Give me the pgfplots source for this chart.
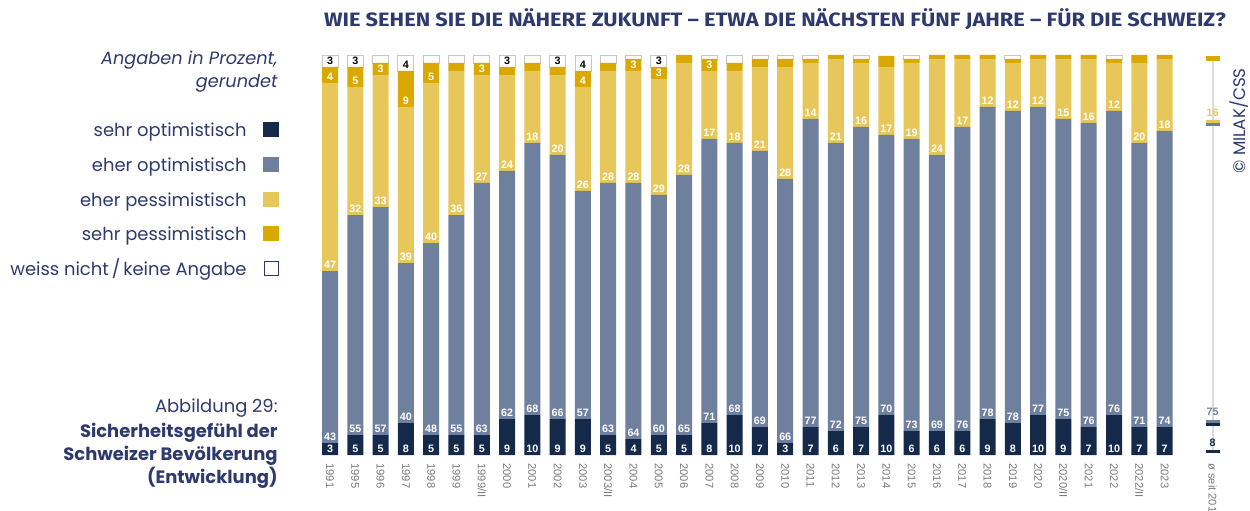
\documentclass[border=0pt]{standalone}
\usepackage{fontspec}
\setmainfont{Poppins}
\newfontfamily\lib{Liberation Sans}
\newfontfamily\fira{Fira Sans}
\usepackage{pgfplots}
\usepackage{pgfplotstable}
\pgfplotsset{compat=1.18}
\definecolor{ink}{HTML}{2E3A6E}
\definecolor{so}{HTML}{15294A}
\definecolor{eo}{HTML}{6F809E}
\definecolor{ep}{HTML}{E8C75A}
\definecolor{sp}{HTML}{D9A900}
\definecolor{tickgrey}{HTML}{7A7A7A}
\definecolor{rail}{HTML}{DCDCDC}

% x: position, so/eo/ep/sp/wn: sehr opt., eher opt., eher pess., sehr pess., weiss nicht
\pgfplotstableread{
x  so eo ep sp  wn
0  3  43 47 4   3
1  5  55 32 5   3
2  5  57 33 3   2
3  8  40 39 9   4
4  5  48 40 5   2
5  5  55 36 2   2
6  5  63 27 3   2
7  9  62 24 2   3
8  10 68 18 2   2
9  9  66 20 2   3
10 9  57 26 4   4
11 5  63 28 2   2
12 4  64 28 3   1
13 5  60 29 3   3
14 5  65 28 2   0
15 8  71 17 3   1
16 10 68 18 2   2
17 7  69 21 2   1
18 3  66 28 2   1
19 7  77 14 1   1
20 6  72 21 1   0
21 7  75 16 1   1
22 10 70 17 2.8 0
23 6  73 19 1   1
24 6  69 24 1   0
25 6  76 17 1   0
26 9  78 12 1   0
27 8  78 12 1   1
28 10 77 12 1   0
29 9  75 15 1   0
30 7  76 16 1   0
31 10 76 12 1   1
32 7  71 20 2   0
33 7  74 18 1   0
}\survey

\pgfplotsset{
  frame/.style={
    x=12.645bp, y=2bp,
    xmin=-0.6, xmax=35.5, ymin=0, ymax=100,
    axis line style={draw=none}, major tick length=0pt,
    ytick=\empty, clip=false,
  },
  lbl/.style={
    draw=none, mark=none,
    point meta=explicit symbolic,
    nodes near coords={\ifdim\pgfplotspointmeta pt<3pt\else\pgfplotspointmeta\fi},
    every node near coord/.append style={anchor=center, yshift=3bp, inner sep=0pt,
      text=white, font=\lib\bfseries\fontsize{5.4}{6}\selectfont},
  },
}

\begin{document}
\begin{tikzpicture}
% stacked bars
\begin{axis}[frame,
  ybar stacked, bar width=8bp,
  xtick={0,...,33,34.9},
  xticklabels={1991,1995,1996,1997,1998,1999,1999/II,2000,2001,2002,2003,2003/II,
    2004,2005,2006,2007,2008,2009,2010,2011,2012,2013,2014,2015,2016,2017,2018,
    2019,2020,2020/II,2021,2022,2022/II,2023,ø seit 2013},
  xticklabel shift=4bp,
  xticklabel style={rotate=-90, anchor=west, inner sep=0pt, text=tickgrey,
    font=\lib\fontsize{5.6}{6}\selectfont},
]
\addplot[fill=so, draw=none] table[x=x, y=so] \survey;
\addplot[fill=eo, draw=none] table[x=x, y=eo] \survey;
\addplot[fill=ep, draw=none] table[x=x, y=ep] \survey;
\addplot[fill=sp, draw=none] table[x=x, y=sp] \survey;
\addplot[fill=white, draw=gray!45, line width=0.4bp] table[x=x, y=wn] \survey;
\end{axis}
% value labels and the average column
\begin{axis}[frame, xtick=\empty]
\addplot[lbl] table[x=x, y expr=0, meta=so] \survey;
\addplot[lbl] table[x=x, y=so, meta=eo] \survey;
\addplot[lbl] table[x=x, y expr=\thisrow{so}+\thisrow{eo}, meta=ep] \survey;
\addplot[lbl] table[x=x, y expr=\thisrow{so}+\thisrow{eo}+\thisrow{ep}, meta=sp] \survey;
\addplot[lbl, every node near coord/.append style={text=black}]
  table[x=x, y expr=\thisrow{so}+\thisrow{eo}+\thisrow{ep}+\thisrow{sp}, meta=wn] \survey;
% ø seit 2013
\addplot[rail, line width=1bp] coordinates {(34.9,0.5) (34.9,99.5)};
\addplot[sp, line width=2.5bp] coordinates {(34.62,99.2) (35.18,99.2)};
\addplot[ep, line width=1.4bp] coordinates {(34.62,83.3) (35.18,83.3)};
\addplot[eo, line width=1.4bp] coordinates {(34.62,82.6) (35.18,82.6)};
\addplot[eo, line width=1.5bp] coordinates {(34.62,8.4) (35.18,8.4)};
\addplot[so, line width=1.5bp] coordinates {(34.62,7.6) (35.18,7.6)};
\addplot[so, line width=1.5bp] coordinates {(34.62,0.8) (35.18,0.8)};
\node[text=ep, font=\lib\bfseries\fontsize{5.4}{6}\selectfont] at (axis cs:34.9,85.6) {16};
\node[text=eo, font=\lib\bfseries\fontsize{5.4}{6}\selectfont] at (axis cs:34.9,10.9) {75};
\node[text=so, font=\lib\bfseries\fontsize{5.4}{6}\selectfont] at (axis cs:34.9,3) {8};
\end{axis}
% texts, in pixel coordinates of the reference
\begin{scope}[x=0.5bp, y=-0.5bp, shift={(-157.41bp,227.5bp)}]
\node[anchor=base, text=ink, font=\fira\bfseries\fontsize{9.7}{11}\selectfont]
  at (775,27) {\scalebox{1.13}[1]{WIE SEHEN SIE DIE NÄHERE ZUKUNFT – ETWA DIE NÄCHSTEN FÜNF JAHRE – FÜR DIE SCHWEIZ?}};
\begin{scope}[every node/.style={anchor=base east, inner sep=0pt, text=ink,
    font=\fontsize{9}{10}\selectfont}]
\node[font=\itshape\fontsize{8.9}{10}\selectfont] at (278,65) {Angaben in Prozent,};
\node[font=\itshape\fontsize{8.9}{10}\selectfont] at (278,88) {gerundet};
\node at (247,137) {sehr optimistisch};
\node at (247,172) {eher optimistisch};
\node at (247,207) {eher pessimistisch};
\node at (247,241) {sehr pessimistisch};
\node at (247,276) {weiss nicht\,/\,keine Angabe};
\node[font=\fontsize{9}{10}\selectfont] at (278,413) {Abbildung 29:};
\node[font=\bfseries\fontsize{9}{10}\selectfont] at (278,438) {Sicherheitsgefühl der};
\node[font=\bfseries\fontsize{9}{10}\selectfont] at (278,461) {Schweizer Bevölkerung};
\node[font=\bfseries\fontsize{9}{10}\selectfont] at (278,484) {(Entwicklung)};
\end{scope}
\fill[so] (263,122) rectangle (279,137);
\fill[eo] (263,157) rectangle (279,172);
\fill[ep] (263,192) rectangle (279,207);
\fill[sp] (263,226) rectangle (279,241);
\draw[ink, line width=0.5bp, fill=white] (264,262) rectangle (278,276);
\node[rotate=90, inner sep=0pt, text=ink, font=\fontsize{8.4}{9}\selectfont] at (1239,121) {© MILAK/CSS};
\pgfresetboundingbox
\path[use as bounding box] (0,0) rectangle (1250,511);
\end{scope}
\end{tikzpicture}
\end{document}
